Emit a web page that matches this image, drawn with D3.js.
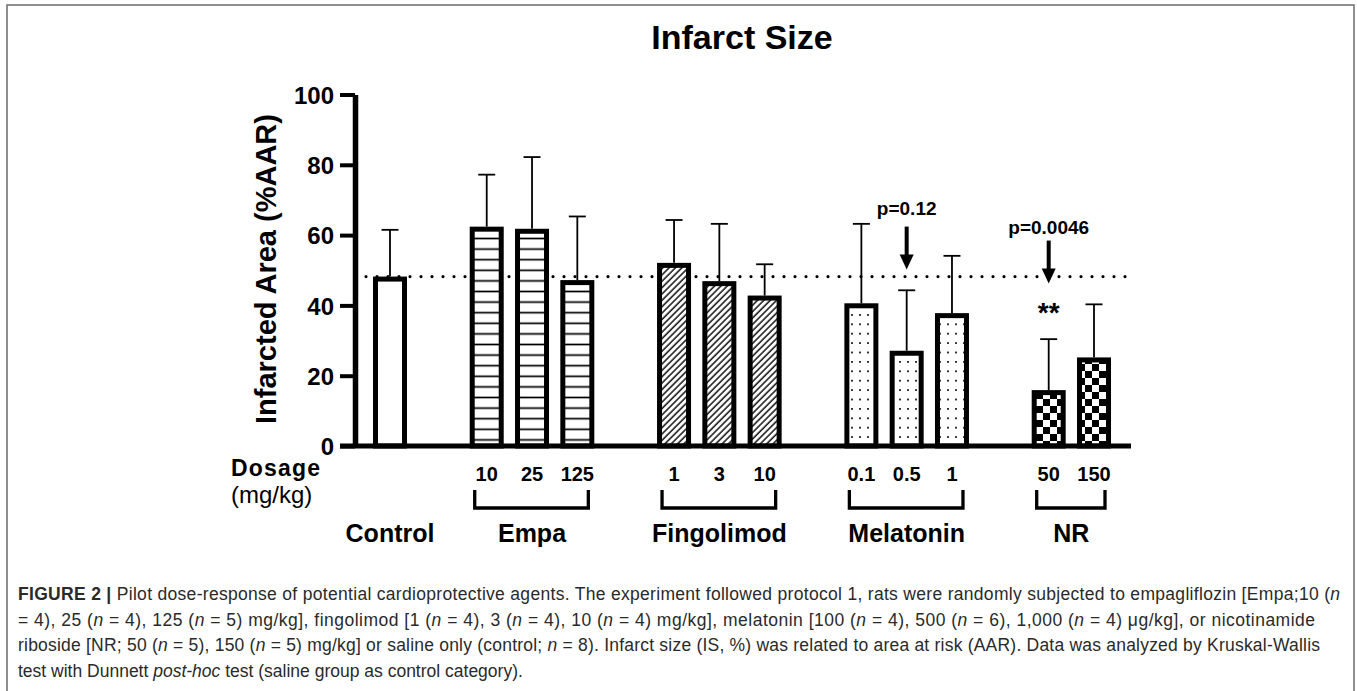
<!DOCTYPE html>
<html>
<head>
<meta charset="utf-8">
<script src="https://cdn.jsdelivr.net/npm/d3@7"></script>
<style>
  body { margin: 0; background: #fff; }
  svg { display: block; }
  text { font-family: "Liberation Sans", Arial, sans-serif; }
</style>
</head>
<body>
<svg id="chart" width="1357" height="691"></svg>
<script>
  //Chart values
  var groups = ["Control", "Empa", "Fingolimod", "Melatonin", "NR"]
  var doses = [[""], ["10", "25", "125"], ["1", "3", "10"], ["0.1", "0.5", "1"], ["50", "150"]]
  var means = [[48.2], [62.4, 61.8, 47.2], [52.1, 46.9, 42.8], [40.6, 27.1, 37.8], [15.9, 25.2]]
  var sds = [[13.3], [14.8, 20.4, 18.1], [12.2, 16.3, 8.9], [22.6, 17.2, 16.3], [14.5, 15.1]]
  var fills = ["white", "url(#hlines)", "url(#diag)", "url(#dots)", "url(#checks)"]
  var yTicks = [0, 20, 40, 60, 80, 100]
  var annotations = [
    {group: 3, bar: 1, label: "p=0.12", stars: ""},
    {group: 4, bar: 0, label: "p=0.0046", stars: "**"}
  ]
  var captionLines = [
    [["FIGURE 2 | ", "b"], ["Pilot dose-response of potential cardioprotective agents. The experiment followed protocol 1, rats were randomly subjected to empagliflozin [Empa;10 (", ""], ["n", "i"]],
    [["= 4), 25 (", ""], ["n", "i"], [" = 4), 125 (", ""], ["n", "i"], [" = 5) mg/kg], fingolimod [1 (", ""], ["n", "i"], [" = 4), 3 (", ""], ["n", "i"], [" = 4), 10 (", ""], ["n", "i"], [" = 4) mg/kg], melatonin [100 (", ""], ["n", "i"], [" = 4), 500 (", ""], ["n", "i"], [" = 6), 1,000 (", ""], ["n", "i"], [" = 4) \u03bcg/kg], or nicotinamide", ""]],
    [["riboside [NR; 50 (", ""], ["n", "i"], [" = 5), 150 (", ""], ["n", "i"], [" = 5) mg/kg] or saline only (control; ", ""], ["n", "i"], [" = 8). Infarct size (IS, %) was related to area at risk (AAR). Data was analyzed by Kruskal-Wallis", ""]],
    [["test with Dunnett ", ""], ["post-hoc", "i"], [" test (saline group as control category).", ""]]
  ]
  var captionWidths = [1322, 1297, 1302, null]

  var groupGap = 1.135 // extra slots between groups

  // flatten the groups into bars with a slot position
  var bars = []
  var count = 0
  groups.forEach((g, gi) => {
    means[gi].forEach((m, bi) => {
      bars.push({group: gi, bar: bi, dose: doses[gi][bi], mean: m, sd: sds[gi][bi], slot: count + gi * groupGap})
      count += 1
    })
  })

  var svg = d3.select("#chart")

  var xScale = d3.scaleLinear()
    .domain([0, d3.max(bars, d => d.slot)])
    .range([390, 1094])

  var yScale = d3.scaleLinear()
    .domain([0, 100])
    .range([446, 94.5])

  var axisX = 355
  var barW = 29
  var barStroke = 5

  // patterns
  var defs = svg.append("defs")

  var hl = defs.append("pattern").attr("id", "hlines").attr("patternUnits", "userSpaceOnUse")
    .attr("width", 10).attr("height", 10.6)
  hl.append("rect").attr("width", 10).attr("height", 10.6).attr("fill", "white")
  hl.append("line").attr("x1", 0).attr("x2", 10).attr("y1", 5.3).attr("y2", 5.3)
    .attr("stroke", "black").attr("stroke-width", 1.7)

  var dg = defs.append("pattern").attr("id", "diag").attr("patternUnits", "userSpaceOnUse")
    .attr("width", 4.5).attr("height", 10).attr("patternTransform", "rotate(45)")
  dg.append("rect").attr("width", 4.5).attr("height", 10).attr("fill", "white")
  dg.append("line").attr("x1", 1).attr("x2", 1).attr("y1", 0).attr("y2", 10)
    .attr("stroke", "black").attr("stroke-width", 1.4)

  var dt = defs.append("pattern").attr("id", "dots").attr("patternUnits", "userSpaceOnUse")
    .attr("width", 8).attr("height", 9.4)
  dt.append("rect").attr("width", 8).attr("height", 9.4).attr("fill", "white")
  dt.append("circle").attr("cx", 4).attr("cy", 4.7).attr("r", 1.05).attr("fill", "black")

  var ck = defs.append("pattern").attr("id", "checks").attr("patternUnits", "userSpaceOnUse")
    .attr("width", 14).attr("height", 14)
  ck.append("rect").attr("width", 14).attr("height", 14).attr("fill", "white")
  ck.append("rect").attr("width", 7).attr("height", 7).attr("fill", "black")
  ck.append("rect").attr("x", 7).attr("y", 7).attr("width", 7).attr("height", 7).attr("fill", "black")

  // figure frame
  svg.append("rect")
    .attr("x", 7).attr("y", 5).attr("width", 1347).attr("height", 720)
    .attr("fill", "none").attr("stroke", "#6b6b6b").attr("stroke-width", 1.5)

  // title
  svg.append("text")
    .attr("x", 742).attr("y", 49)
    .attr("text-anchor", "middle")
    .attr("font-size", "34px").attr("font-weight", "bold")
    .text("Infarct Size")

  // y axis
  var yAxis = d3.axisLeft(yScale).tickValues(yTicks).tickSize(15).tickSizeOuter(0).tickPadding(6)
  var yg = svg.append("g")
    .attr("transform", `translate(${axisX},0)`)
    .call(yAxis)
  yg.select(".domain").attr("stroke", "black").attr("stroke-width", 5.5)
  yg.selectAll(".tick line").attr("stroke", "black").attr("stroke-width", 4)
  yg.selectAll(".tick text")
    .attr("fill", "black")
    .attr("font-family", "Liberation Sans, Arial, sans-serif")
    .attr("font-size", "24px").attr("font-weight", "bold")
    .attr("dy", "0.36em")

  svg.append("text")
    .attr("transform", "translate(276,269) rotate(-90)")
    .attr("text-anchor", "middle")
    .attr("font-size", "29px").attr("font-weight", "bold")
    .text("Infarcted Area (%AAR)")

  // reference line at the control mean
  var refY = yScale(means[0][0])
  svg.append("line")
    .attr("x1", xScale(0) - 24).attr("x2", xScale(d3.max(bars, d => d.slot)) + 33)
    .attr("y1", refY).attr("y2", refY)
    .attr("stroke", "black").attr("stroke-width", 3.2)
    .attr("stroke-linecap", "round")
    .attr("stroke-dasharray", "0 11")

  // error bars (upper only)
  var err = svg.append("g").selectAll("g").data(bars).enter().append("g")
  err.append("line")
    .attr("x1", d => xScale(d.slot)).attr("x2", d => xScale(d.slot))
    .attr("y1", d => yScale(d.mean)).attr("y2", d => yScale(d.mean + d.sd))
    .attr("stroke", "black").attr("stroke-width", 1.8)
  err.append("line")
    .attr("x1", d => xScale(d.slot) - 8.5).attr("x2", d => xScale(d.slot) + 8.5)
    .attr("y1", d => yScale(d.mean + d.sd)).attr("y2", d => yScale(d.mean + d.sd))
    .attr("stroke", "black").attr("stroke-width", 1.8)

  // bars
  svg.append("g").selectAll("rect").data(bars).enter().append("rect")
    .attr("x", d => xScale(d.slot) - barW / 2)
    .attr("y", d => yScale(d.mean) + barStroke / 2)
    .attr("width", barW)
    .attr("height", d => yScale(0) - yScale(d.mean) - barStroke / 2)
    .attr("fill", d => fills[d.group])
    .attr("stroke", "black").attr("stroke-width", barStroke)

  // x axis line
  svg.append("line")
    .attr("x1", axisX - 15).attr("x2", xScale(d3.max(bars, d => d.slot)) + 37)
    .attr("y1", yScale(0)).attr("y2", yScale(0))
    .attr("stroke", "black").attr("stroke-width", 5)

  // annotations: p values with arrows
  annotations.forEach((a, i) => {
    var b = bars.find(d => d.group === a.group && d.bar === a.bar)
    var cx = xScale(b.slot)
    var tip = i === 0 ? refY - 7 : refY + 7
    var top = tip - 43
    svg.append("text")
      .attr("x", cx).attr("y", top - (i === 0 ? 12 : 7))
      .attr("text-anchor", "middle")
      .attr("font-size", "19px").attr("font-weight", "bold")
      .text(a.label)
    svg.append("line")
      .attr("x1", cx).attr("x2", cx).attr("y1", top).attr("y2", tip - 12)
      .attr("stroke", "black").attr("stroke-width", 4)
    svg.append("path")
      .attr("d", `M${cx - 7},${tip - 15} L${cx + 7},${tip - 15} L${cx},${tip} Z`)
      .attr("fill", "black")
    if (a.stars) {
      svg.append("text")
        .attr("x", cx).attr("y", yScale(b.mean + b.sd) - 17)
        .attr("text-anchor", "middle")
        .attr("font-size", "28px").attr("font-weight", "bold")
        .text(a.stars)
    }
  })

  // dose labels
  svg.append("g").selectAll("text").data(bars).enter().append("text")
    .attr("x", d => xScale(d.slot)).attr("y", 481)
    .attr("text-anchor", "middle")
    .attr("font-size", "20px").attr("font-weight", "bold")
    .text(d => d.dose)

  svg.append("text")
    .attr("x", 231).attr("y", 476)
    .attr("font-size", "23px").attr("font-weight", "bold")
    .attr("letter-spacing", "1.2px")
    .text("Dosage")
  svg.append("text")
    .attr("x", 231).attr("y", 503)
    .attr("font-size", "24px")
    .text("(mg/kg)")

  // group brackets and names
  groups.forEach((g, gi) => {
    var gb = bars.filter(d => d.group === gi)
    var left = xScale(gb[0].slot)
    var right = xScale(gb[gb.length - 1].slot)
    if (gb.length > 1) {
      svg.append("path")
        .attr("d", `M${left - 12},490 V508 H${right + 11} V490`)
        .attr("fill", "none").attr("stroke", "black").attr("stroke-width", 3.3)
    }
    svg.append("text")
      .attr("x", (left + right) / 2).attr("y", 542)
      .attr("text-anchor", "middle")
      .attr("font-size", "25px").attr("font-weight", "bold")
      .text(g)
  })

  // caption
  var cap = svg.append("g")
  captionLines.forEach((line, li) => {
    var t = cap.append("text")
      .attr("x", 18).attr("y", 600 + li * 25.5)
      .attr("font-family", "Roboto, 'Liberation Sans', sans-serif")
      .attr("font-size", "17.5px")
      .attr("font-weight", 300)
      .attr("fill", "#2a2a2a")
    if (captionWidths[li]) {
      t.attr("textLength", captionWidths[li]).attr("lengthAdjust", "spacing")
    }
    line.forEach(seg => {
      t.append("tspan")
        .attr("font-weight", seg[1] === "b" ? "bold" : null)
        .attr("font-style", seg[1] === "i" ? "italic" : null)
        .text(seg[0])
    })
  })
</script>
</body>
</html>
